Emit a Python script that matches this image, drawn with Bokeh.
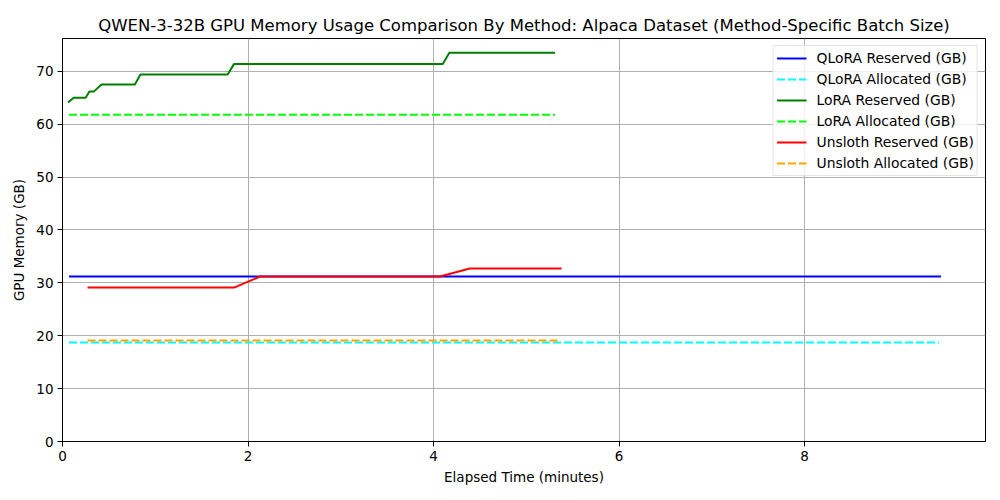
from bokeh.embed import file_html
from bokeh.models import Legend, LegendItem
from bokeh.plotting import figure
from bokeh.resources import INLINE

# elapsed minutes and memory (GB) per series
qlora_res_t = [0.07, 9.47]
qlora_res_m = [31.2, 31.2]
qlora_alloc_t = [0.07, 9.45]
qlora_alloc_m = [18.7, 18.7]

lora_res_t = [0.06, 0.12, 0.25, 0.29, 0.34, 0.42, 0.78, 0.84, 1.78, 1.85, 4.10, 4.17, 5.31]
lora_res_m = [64.1, 65.0, 65.0, 66.2, 66.2, 67.5, 67.5, 69.4, 69.4, 71.4, 71.4, 73.5, 73.5]
lora_alloc_t = [0.07, 5.31]
lora_alloc_m = [61.8, 61.8]

unsloth_res_t = [0.27, 1.85, 2.13, 4.07, 4.39, 5.38]
unsloth_res_m = [29.1, 29.1, 31.2, 31.2, 32.7, 32.7]
unsloth_alloc_t = [0.27, 5.36]
unsloth_alloc_m = [19.1, 19.1]

x_ticks = [0, 2, 4, 6, 8]
y_ticks = [0, 10, 20, 30, 40, 50, 60, 70]

FONT = "DejaVu Sans"

p = figure(frame_width=923, frame_height=403,
           x_range=(0, 9.95), y_range=(0, 76.2),
           output_backend="svg", toolbar_location=None,
           min_border_left=62, min_border_right=7,
           min_border_top=38, min_border_bottom=51,
           outline_line_color="black", outline_line_width=1,
           background_fill_color="white", border_fill_color="white")

p.title.text = "QWEN-3-32B GPU Memory Usage Comparison By Method: Alpaca Dataset (Method-Specific Batch Size)"
p.title.align = "center"
p.title.text_font = FONT
p.title.text_font_size = "16.5px"
p.title.text_font_style = "normal"
p.title.text_color = "black"
p.title.standoff = 7

for ax in (p.xaxis[0], p.yaxis[0]):
    ax.axis_line_color = "black"
    ax.major_tick_line_color = "black"
    ax.major_tick_out = 5
    ax.major_tick_in = 0
    ax.minor_tick_line_color = None
    ax.major_label_text_font = FONT
    ax.major_label_text_font_size = "13.5px"
    ax.major_label_text_color = "black"
    ax.axis_label_text_font = FONT
    ax.axis_label_text_font_size = "13.5px"
    ax.axis_label_text_font_style = "normal"
    ax.axis_label_text_color = "black"

p.xaxis.ticker = x_ticks
p.yaxis.ticker = y_ticks
p.xaxis.axis_label = "Elapsed Time (minutes)"
p.yaxis.axis_label = "GPU Memory (GB)"
p.xaxis.axis_label_standoff = 5
p.yaxis.axis_label_standoff = 6
p.xaxis.major_label_standoff = 4
p.yaxis.major_label_standoff = 4

p.xgrid.ticker = x_ticks
p.ygrid.ticker = y_ticks
p.grid.grid_line_color = "#b0b0b0"
p.grid.grid_line_width = 1

series = [
    ("QLoRA Reserved (GB)", qlora_res_t, qlora_res_m, "#0000ff", "solid"),
    ("QLoRA Allocated (GB)", qlora_alloc_t, qlora_alloc_m, "#00ffff", "8 3"),
    ("LoRA Reserved (GB)", lora_res_t, lora_res_m, "#008000", "solid"),
    ("LoRA Allocated (GB)", lora_alloc_t, lora_alloc_m, "#00ff00", "8 3"),
    ("Unsloth Reserved (GB)", unsloth_res_t, unsloth_res_m, "#ff0000", "solid"),
    ("Unsloth Allocated (GB)", unsloth_alloc_t, unsloth_alloc_m, "#ffa500", "8 3"),
]

items = []
for label, t, m, color, dash in series:
    r = p.line(t, m, line_color=color, line_width=2, line_dash=dash)
    items.append(LegendItem(label=label, renderers=[r]))

legend = Legend(items=items, location="top_right",
                label_text_font=FONT, label_text_font_size="13.9px",
                label_text_color="black",
                glyph_width=30, glyph_height=18, label_height=18,
                spacing=3, padding=3, margin=7, label_standoff=10,
                border_line_color="#cccccc", border_line_width=1,
                background_fill_alpha=0.8)
p.add_layout(legend)

open("out.html", "w").write(file_html(p, INLINE))
